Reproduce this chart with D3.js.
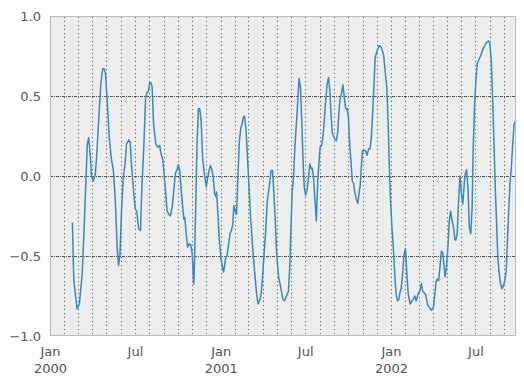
<!DOCTYPE html>
<html><head><meta charset="utf-8">
<script src="https://cdn.jsdelivr.net/npm/d3@7"></script>
<style>
body{margin:0;background:#fff}
svg{display:block}
text{font-family:"DejaVu Sans",sans-serif;}
</style>
</head><body><svg id="c" width="524" height="385"></svg>
<script>
// ---- data ----
const startDate = "2000-01-01";
const endDate = "2002-09-26";
// days since startDate
const dayOffsets = [48,51,58,63,69,73,77,80,83,86,89,93,97,100,104,109,113,116,119,123,127,131,136,140,144,147,150,153,157,161,164,169,172,174,179,183,186,190,194,197,201,205,208,211,214,217,219,222,227,231,235,238,242,247,251,255,258,262,266,269,272,275,278,282,287,289,292,295,298,302,305,308,309,312,315,318,321,324,327,330,332,335,338,341,344,347,350,353,356,357,360,363,367,372,373,376,380,383,386,389,392,394,397,400,403,406,409,412,414,417,420,423,426,430,435,439,443,446,449,452,454,457,462,466,469,472,474,477,480,483,486,490,495,499,503,507,511,514,517,519,522,525,530,534,537,540,542,545,548,551,554,557,560,562,565,568,571,574,577,579,582,585,588,591,594,597,600,602,605,608,611,614,617,620,622,625,628,631,634,637,640,642,645,648,651,654,657,660,662,665,668,670,674,677,680,683,686,689,692,695,697,702,706,710,715,719,722,725,727,730,733,736,739,742,745,748,750,753,756,759,762,765,768,772,776,779,782,785,787,790,793,796,799,802,805,808,810,813,817,822,825,828,830,833,836,839,842,845,847,850,853,856,859,862,865,868,870,873,876,879,882,885,888,890,893,896,899,902,905,907,910,913,916,919,923,928,932,936,940,943,946,949,952,955,958,960,963,966,969,972,975,978,980,983,986,989,992,995,999];
const values = [-0.29,-0.65,-0.83,-0.80,-0.61,-0.34,-0.03,0.20,0.24,0.14,0.00,-0.03,0.01,0.12,0.33,0.58,0.67,0.67,0.64,0.45,0.24,0.12,0.03,-0.15,-0.45,-0.56,-0.49,-0.24,-0.01,0.075,0.20,0.225,0.21,0.10,-0.09,-0.21,-0.22,-0.33,-0.34,-0.07,0.18,0.49,0.52,0.53,0.585,0.58,0.555,0.325,0.20,0.18,0.19,0.14,0.10,-0.07,-0.22,-0.24,-0.25,-0.195,-0.07,0.02,0.035,0.07,0.035,-0.11,-0.27,-0.26,-0.36,-0.445,-0.425,-0.43,-0.49,-0.675,-0.63,-0.24,0.18,0.42,0.42,0.345,0.12,0.035,-0.01,-0.07,-0.01,0.035,0.065,0.04,-0.01,-0.11,-0.13,-0.10,-0.24,-0.40,-0.53,-0.60,-0.59,-0.52,-0.49,-0.425,-0.36,-0.34,-0.30,-0.185,-0.22,-0.24,0.01,0.22,0.30,0.325,0.365,0.375,0.30,0.14,-0.03,-0.26,-0.47,-0.61,-0.74,-0.80,-0.78,-0.75,-0.70,-0.57,-0.36,-0.15,-0.09,-0.02,0.035,0.035,-0.11,-0.28,-0.49,-0.63,-0.70,-0.77,-0.78,-0.75,-0.72,-0.57,-0.28,-0.11,-0.01,0.18,0.41,0.61,0.555,0.325,0.14,-0.07,-0.12,-0.09,-0.01,0.075,0.045,0.05,-0.01,-0.15,-0.28,-0.03,0.10,0.18,0.19,0.24,0.345,0.47,0.575,0.615,0.53,0.41,0.27,0.25,0.23,0.22,0.28,0.43,0.48,0.52,0.57,0.49,0.42,0.42,0.365,0.22,0.10,-0.03,-0.05,-0.11,-0.15,-0.17,-0.12,-0.06,0.08,0.16,0.16,0.155,0.13,0.17,0.17,0.24,0.41,0.595,0.74,0.79,0.815,0.805,0.76,0.64,0.555,0.325,0.10,-0.15,-0.32,-0.445,-0.61,-0.74,-0.78,-0.77,-0.73,-0.70,-0.61,-0.49,-0.455,-0.61,-0.74,-0.80,-0.78,-0.77,-0.75,-0.78,-0.76,-0.73,-0.72,-0.67,-0.72,-0.73,-0.74,-0.78,-0.81,-0.82,-0.84,-0.82,-0.74,-0.655,-0.645,-0.655,-0.57,-0.47,-0.48,-0.57,-0.63,-0.57,-0.445,-0.28,-0.22,-0.28,-0.32,-0.40,-0.40,-0.36,-0.15,0.00,-0.11,-0.175,-0.05,0.01,0.04,-0.07,-0.32,-0.36,-0.195,0.14,0.43,0.595,0.70,0.725,0.75,0.79,0.815,0.835,0.845,0.825,0.72,0.47,0.18,-0.11,-0.34,-0.51,-0.61,-0.675,-0.705,-0.685,-0.655,-0.59,-0.445,-0.24,-0.05,0.055,0.20,0.325,0.35];
const yTicks = [-1.0, -0.5, 0.0, 0.5, 1.0];
const yGridValues = [-0.5, 0.0, 0.5];
const xTickDates = ["2000-01-01","2000-07-01","2001-01-01","2001-07-01","2002-01-01","2002-07-01"];
const xTickLabels = [["Jan","2000"],["Jul"],["Jan","2001"],["Jul"],["Jan","2002"],["Jul"]];

// ---- chart ----
const W = 524, H = 385;
const m = {left:50, right:8, top:16, bottom:49};
const parse = d3.timeParse("%Y-%m-%d");
const start = parse(startDate), end = parse(endDate);
const data = dayOffsets.map((d,i)=>({date:d3.timeDay.offset(start,d), value:values[i]}));

const x = d3.scaleTime().domain([start,end]).range([m.left, W-m.right]);
const y = d3.scaleLinear().domain([-1,1]).range([H-m.bottom, m.top]);

const svg = d3.select("#c");
const x0 = m.left, x1 = W-m.right, y0 = m.top, y1 = H-m.bottom;

svg.append("rect").attr("x",x0).attr("y",y0).attr("width",x1-x0).attr("height",y1-y0)
  .attr("fill","#eeeeee");

const grid = svg.append("g").attr("shape-rendering","crispEdges");
grid.selectAll("line.v").data(d3.timeMonth.range(d3.timeMonth.offset(start,1), end))
  .join("line").attr("class","v")
  .attr("x1",d=>Math.round(x(d))+0.5).attr("x2",d=>Math.round(x(d))+0.5)
  .attr("y1",y0+1).attr("y2",y1)
  .attr("stroke","#555").attr("stroke-width",1).attr("stroke-dasharray","1,3");
grid.selectAll("line.h").data(yGridValues)
  .join("line").attr("class","h")
  .attr("x1",x0).attr("x2",x1)
  .attr("y1",d=>Math.round(y(d))+0.5).attr("y2",d=>Math.round(y(d))+0.5)
  .attr("stroke","#555").attr("stroke-width",1).attr("stroke-dasharray","3,1,1,1");

svg.append("path").datum(data)
  .attr("fill","none").attr("stroke","#348ABD").attr("stroke-width",1.5)
  .attr("stroke-linejoin","round")
  .attr("d", d3.line().x(d=>x(d.date)).y(d=>y(d.value)));

svg.append("rect").attr("x",x0+0.5).attr("y",y0+0.5).attr("width",x1-x0-1).attr("height",y1-y0-1)
  .attr("fill","none").attr("stroke","#bcbcbc").attr("stroke-width",1);

// y axis
const ya = svg.append("g").attr("transform",`translate(${x0},0)`)
  .call(d3.axisLeft(y).tickValues(yTicks).tickSize(0).tickPadding(9).tickFormat(d3.format(".1f")));
ya.select(".domain").remove();
ya.selectAll("text").attr("font-size",13).attr("fill","#555").attr("font-family","DejaVu Sans, sans-serif");

// x axis
const xa = svg.append("g").attr("transform",`translate(0,${y1})`)
  .call(d3.axisBottom(x).tickValues(xTickDates.map(parse)).tickSize(0).tickPadding(11).tickFormat(""));
xa.select(".domain").remove();
xa.selectAll(".tick text").each(function(d,i){
  const t = d3.select(this).attr("font-size",13).attr("fill","#555").attr("font-family","DejaVu Sans, sans-serif");
  xTickLabels[i].forEach((s,j)=>{
    t.append("tspan").attr("x",0).attr("dy", j===0 ? "0.71em" : "1.28em").text(s);
  });
});
</script></body></html>
